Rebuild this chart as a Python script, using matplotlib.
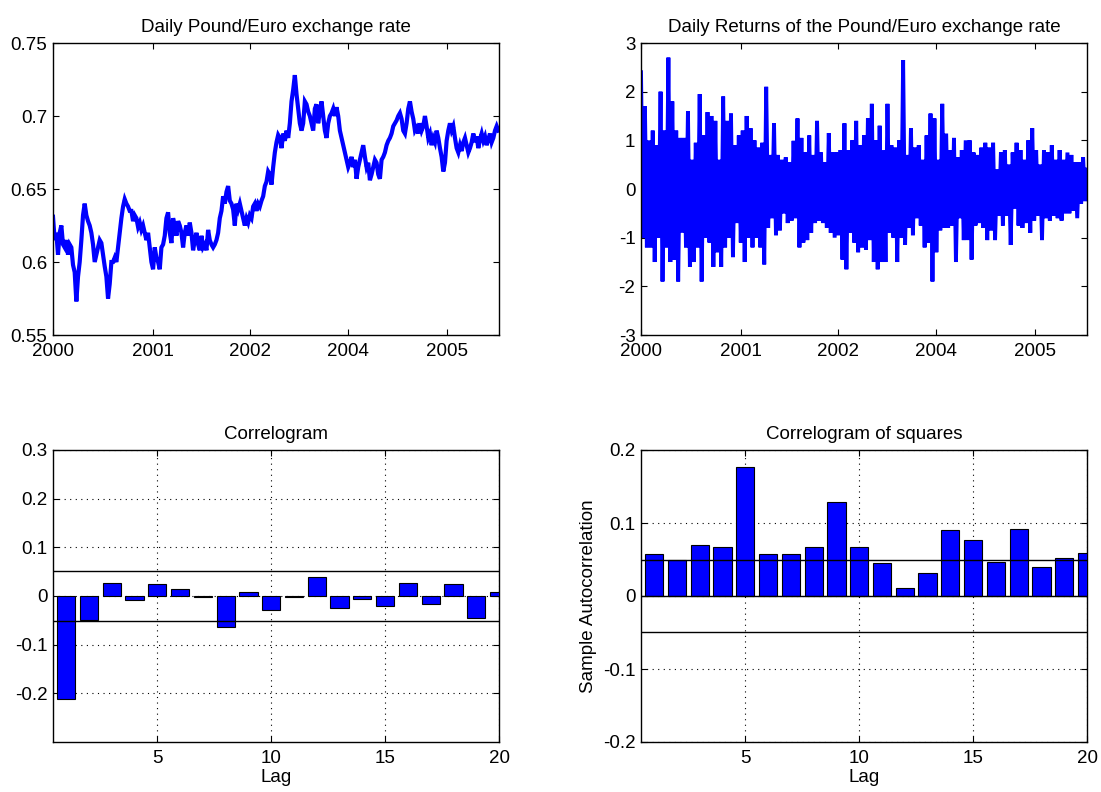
import numpy as np
import matplotlib
matplotlib.use("Agg")
import matplotlib.pyplot as plt

plt.rcParams['font.family'] = ['Liberation Sans', 'DejaVu Sans']
plt.rcParams['font.size'] = 13

# daily pound/euro rate, one reading every 5 days
rate = [
    0.631, 0.615, 0.620, 0.605, 0.620, 0.625, 0.612, 0.610, 0.615, 0.605,
    0.612, 0.610, 0.598, 0.593, 0.573, 0.590, 0.600, 0.615, 0.632, 0.640,
    0.632, 0.628, 0.625, 0.620, 0.612, 0.600, 0.605, 0.610, 0.615, 0.613,
    0.605, 0.597, 0.590, 0.575, 0.585, 0.600, 0.600, 0.603, 0.600, 0.610,
    0.620, 0.630, 0.638, 0.643, 0.640, 0.638, 0.635, 0.635, 0.628, 0.632,
    0.630, 0.624, 0.627, 0.622, 0.625, 0.620, 0.615, 0.620, 0.610, 0.600,
    0.595, 0.610, 0.603, 0.600, 0.595, 0.610, 0.612, 0.618, 0.630, 0.634,
    0.620, 0.613, 0.630, 0.625, 0.618, 0.628, 0.625, 0.620, 0.610, 0.620,
    0.625, 0.618, 0.627, 0.620, 0.608, 0.615, 0.620, 0.612, 0.608, 0.618,
    0.610, 0.612, 0.608, 0.622, 0.615, 0.612, 0.610, 0.612, 0.615, 0.620,
    0.630, 0.635, 0.645, 0.640, 0.648, 0.652, 0.642, 0.640, 0.636, 0.625,
    0.640, 0.636, 0.640, 0.635, 0.630, 0.625, 0.630, 0.627, 0.632, 0.630,
    0.638, 0.640, 0.635, 0.640, 0.638, 0.642, 0.645, 0.652, 0.655, 0.662,
    0.660, 0.653, 0.665, 0.675, 0.682, 0.687, 0.685, 0.678, 0.688, 0.683,
    0.690, 0.685, 0.695, 0.710, 0.718, 0.728, 0.715, 0.705, 0.695, 0.690,
    0.695, 0.710, 0.708, 0.703, 0.700, 0.695, 0.690, 0.705, 0.708, 0.695,
    0.703, 0.710, 0.700, 0.690, 0.685, 0.695, 0.700, 0.702, 0.705, 0.700,
    0.706, 0.700, 0.690, 0.685, 0.680, 0.675, 0.670, 0.665, 0.668, 0.672,
    0.665, 0.670, 0.657, 0.665, 0.670, 0.675, 0.680, 0.672, 0.665, 0.668,
    0.656, 0.660, 0.665, 0.670, 0.668, 0.660, 0.657, 0.670, 0.672, 0.675,
    0.680, 0.683, 0.685, 0.688, 0.693, 0.695, 0.697, 0.700, 0.702, 0.698,
    0.690, 0.688, 0.695, 0.705, 0.710, 0.703, 0.698, 0.690, 0.692, 0.688,
    0.695, 0.690, 0.693, 0.700, 0.693, 0.685, 0.688, 0.680, 0.685, 0.682,
    0.690, 0.685, 0.678, 0.672, 0.662, 0.668, 0.683, 0.690, 0.695, 0.690,
    0.693, 0.685, 0.678, 0.675, 0.680, 0.676, 0.682, 0.685, 0.680, 0.675,
    0.678, 0.682, 0.688, 0.682, 0.686, 0.678, 0.684, 0.688, 0.683, 0.686,
    0.680, 0.684, 0.688, 0.682, 0.685, 0.690, 0.693, 0.690,
]

# daily returns (%), spikes read alternately up / down
returns = [
    2.4, -1.0, 1.7, -1.2, 1.0, -1.2, 1.2, -1.5, 0.9, -1.0,
    2.0, -1.9, 1.2, -1.2, 2.7, -1.5, 1.8, -1.45, 1.2, -1.9,
    1.05, -0.9, 1.05, -1.2, 1.6, -1.6, 0.6, -1.5, 0.95, -1.2,
    1.95, -1.9, 1.1, -1.0, 1.58, -1.1, 1.5, -1.6, 1.4, -1.3,
    0.6, -1.6, 1.9, -1.2, 1.4, -1.0, 1.55, -1.4, 0.9, -0.7,
    1.1, -1.1, 1.2, -1.5, 1.5, -1.0, 1.25, -1.2, 1.0, -1.0,
    0.85, -1.2, 0.95, -1.55, 2.1, -0.8,
    0.7, -0.6, 1.35, -0.95, 0.7, -0.85, 0.6, -0.5, 0.65, -0.7,
    0.55, -0.65, 0.99, -0.6, 1.45, -1.2, 1.05, -1.1, 0.75, -1.05,
    1.1, -0.9, 0.7, -0.7, 1.4, -0.65, 0.75, -0.7, 0.55, -0.8,
    1.15, -0.9, 0.75, -1.0, 0.75, -0.95, 0.8, -1.45, 1.35, -1.65,
    0.8, -0.9, 1.0, -1.1, 1.4, -1.3, 0.9, -1.2, 1.1, -1.25,
    1.45, -1.05, 1.75, -1.5, 1.0, -1.65, 1.3, -1.5, 0.8, -1.5,
    1.75, -0.9, 0.9, -1.0, 0.85, -1.5, 1.0, -1.0, 2.65, -1.15,
    0.7, -0.8, 1.25, -0.95, 0.85, -0.6, 0.9, -0.75, 0.6, -1.2,
    1.1, -1.1,
    1.55, -1.9, 1.45, -1.3, 0.6, -0.85, 1.75, -0.8, 1.14, -0.8,
    0.8, -0.75, 1.05, -1.5, 0.65, -0.6, 0.8, -1.05, 1.0, -1.05,
    1.0, -1.45, 0.75, -0.75, 0.7, -0.7, 0.85, -0.8, 0.95, -1.05,
    0.85, -0.85, 0.95, -1.05, 0.4, -0.55, 0.75, -0.75, 0.8, -0.55,
    0.5, -1.15, 0.75, -0.4, 0.95, -0.75, 0.8, -0.8, 0.6, -0.7,
    1.0, -0.9, 1.25, -0.65, 0.8, -0.55, 0.5, -1.05, 0.8, -0.6,
    0.75, -0.65, 0.9, -0.55, 0.6, -0.6, 0.8, -0.65, 0.6, -0.5,
    0.75, -0.5, 0.7, -0.45, 0.55, -0.6, 0.55, -0.3, 0.65, -0.25,
    0.4,
]

year_ticks = [0, 300, 592, 885, 1180]
year_labels = ['2000', '2001', '2002', '2004', '2005']
x_end = 1337

lags = np.arange(1, 21)
acf_ret = [-0.212, -0.050, 0.027, -0.009, 0.024, 0.014, -0.003, -0.063, 0.008, -0.028,
           -0.003, 0.040, -0.025, -0.007, -0.020, 0.027, -0.017, 0.024, -0.046, 0.008]
acf_sq = [0.058, 0.050, 0.070, 0.067, 0.177, 0.058, 0.058, 0.067, 0.129, 0.067,
          0.045, 0.011, 0.032, 0.090, 0.077, 0.047, 0.092, 0.040, 0.052, 0.059]
bound = 0.0505

fig = plt.figure(figsize=(11.01, 7.92), dpi=100)
W, H = 1101.0, 792.0


def rect(l, t, r, b):
    return [l / W, 1 - b / H, (r - l) / W, (b - t) / H]


def style(ax):
    ax.tick_params(direction='in', top=True, right=True, length=4, width=0.8,
                   labelsize=13.5)
    ax.tick_params(axis='x', pad=6)
    ax.tick_params(axis='y', pad=4)
    for s in ax.spines.values():
        s.set_linewidth(1.0)


# top left - level
ax1 = fig.add_axes(rect(53, 43, 499, 335))
ax1.plot(np.arange(len(rate)) * 5, rate, color='blue', lw=3.0,
         solid_joinstyle='miter')
ax1.set_xlim(0, x_end)
ax1.set_ylim(0.55, 0.75)
ax1.set_yticks([0.55, 0.6, 0.65, 0.7, 0.75])
ax1.set_yticklabels(['0.55', '0.6', '0.65', '0.7', '0.75'])
ax1.set_xticks(year_ticks)
ax1.set_xticklabels(year_labels)
ax1.set_title('Daily Pound/Euro exchange rate', fontsize=13.5, pad=8)
style(ax1)

# top right - returns
ax2 = fig.add_axes(rect(641, 43, 1087, 335))
ax2.plot(np.linspace(0, x_end, len(returns)), returns, color='blue', lw=2.8,
         solid_joinstyle='miter')
ax2.set_xlim(0, x_end)
ax2.set_ylim(-3, 3)
ax2.set_yticks([-3, -2, -1, 0, 1, 2, 3])
ax2.set_yticklabels(['-3', '-2', '-1', '0', '1', '2', '3'])
ax2.set_xticks(year_ticks)
ax2.set_xticklabels(year_labels)
ax2.set_title('Daily Returns of the Pound/Euro exchange rate', fontsize=13.5, pad=8)
style(ax2)

# bottom left - correlogram
ax3 = fig.add_axes(rect(53, 450, 499, 742))
ax3.bar(lags, acf_ret, width=0.8, color='blue', edgecolor='black', lw=0.8, zorder=3)
ax3.axhline(bound, color='black', lw=1, zorder=4)
ax3.axhline(-bound, color='black', lw=1, zorder=4)
ax3.set_xlim(0.42, 20)
ax3.set_ylim(-0.3, 0.3)
ax3.set_xticks([5, 10, 15, 20])
ax3.set_yticks([-0.2, -0.1, 0, 0.1, 0.2, 0.3])
ax3.set_yticklabels(['-0.2', '-0.1', '0', '0.1', '0.2', '0.3'])
ax3.grid(True, color='black', linestyle=(0, (1, 4)), lw=0.8)
ax3.set_xlabel('Lag', fontsize=13.5, labelpad=1)
ax3.set_title('Correlogram', fontsize=13.5, pad=8)
style(ax3)

# bottom right - correlogram of squares
ax4 = fig.add_axes(rect(641, 450, 1087, 742))
ax4.bar(lags, acf_sq, width=0.8, color='blue', edgecolor='black', lw=0.8, zorder=3)
ax4.axhline(0, color='black', lw=1, zorder=4)
ax4.axhline(bound - 0.001, color='black', lw=1, zorder=4)
ax4.axhline(-bound + 0.001, color='black', lw=1, zorder=4)
ax4.set_xlim(0.42, 20)
ax4.set_ylim(-0.2, 0.2)
ax4.set_xticks([5, 10, 15, 20])
ax4.set_yticks([-0.2, -0.1, 0, 0.1, 0.2])
ax4.set_yticklabels(['-0.2', '-0.1', '0', '0.1', '0.2'])
ax4.grid(True, color='black', linestyle=(0, (1, 4)), lw=0.8)
ax4.set_xlabel('Lag', fontsize=13.5, labelpad=1)
ax4.set_ylabel('Sample Autocorrelation', fontsize=13.5)
ax4.set_title('Correlogram of squares', fontsize=13.5, pad=8)
style(ax4)

fig.savefig('out.png', dpi=100)
